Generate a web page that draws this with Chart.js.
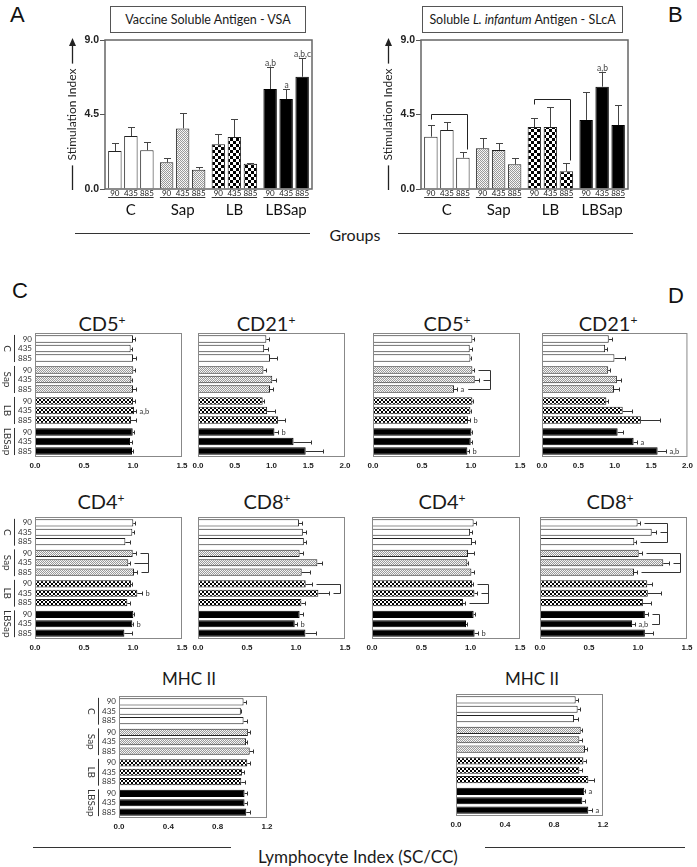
<!DOCTYPE html>
<html><head><meta charset="utf-8">
<script src="https://cdn.jsdelivr.net/npm/chart.js@4.4.1/dist/chart.umd.min.js"></script>
<style>
html,body{margin:0;padding:0;background:#fff;}
body{width:697px;height:867px;position:relative;overflow:hidden;font-family:Lato,'Open Sans',sans-serif;color:#1a1a1a;}
canvas{position:absolute;}
.tx{position:absolute;white-space:nowrap;line-height:1;transform:translate(-50%,-50%);}
.letter{position:absolute;font-family:'Liberation Sans',Arial,sans-serif;font-size:22px;line-height:1;color:#111;}
.box{position:absolute;border:1px solid #555;box-sizing:border-box;display:flex;align-items:center;justify-content:center;font-size:12.5px;white-space:nowrap;}
.hl{position:absolute;height:0;border-top:1px solid #333;}
sup{font-size:0.6em;vertical-align:0.6em;line-height:0;}
</style></head><body>
<div class="letter" style="left:10px;top:4px">A</div>
<div class="letter" style="left:668px;top:4px">B</div>
<div class="letter" style="left:12px;top:280px">C</div>
<div class="letter" style="left:668px;top:285px">D</div>
<div class="box" style="left:110px;top:6px;width:196px;height:27px"><span>Vaccine Soluble Antigen - VSA</span></div>
<div class="box" style="left:422px;top:6px;width:201px;height:27px"><span>Soluble <i>L. infantum</i> Antigen - SLcA</span></div>
<div class="tx" style="left:355px;top:235px;font-size:16px">Groups</div>
<div class="hl" style="left:75px;top:233px;width:235px"></div>
<div class="hl" style="left:398px;top:233px;width:235px"></div>

<div class="tx" style="left:102px;top:322.5px;font-size:20px">CD5<sup>+</sup></div>
<div class="tx" style="left:266px;top:322.5px;font-size:20px">CD21<sup>+</sup></div>
<div class="tx" style="left:447px;top:322.5px;font-size:20px">CD5<sup>+</sup></div>
<div class="tx" style="left:608px;top:322.5px;font-size:20px">CD21<sup>+</sup></div>
<div class="tx" style="left:101px;top:500.5px;font-size:20px">CD4<sup>+</sup></div>
<div class="tx" style="left:267px;top:500.5px;font-size:20px">CD8<sup>+</sup></div>
<div class="tx" style="left:442px;top:500.5px;font-size:20px">CD4<sup>+</sup></div>
<div class="tx" style="left:610px;top:500.5px;font-size:20px">CD8<sup>+</sup></div>
<div class="tx" style="left:189px;top:677.5px;font-size:17px">MHC II</div>
<div class="tx" style="left:532px;top:677.5px;font-size:17px">MHC II</div>
<div class="tx" style="left:358px;top:856px;font-size:17px">Lymphocyte Index (SC/CC)</div>
<div class="hl" style="left:33px;top:847px;width:198px"></div>
<div class="hl" style="left:485px;top:847px;width:200px"></div>

<script>
const GROUPS = ['C', 'Sap', 'LB', 'LBSap'];
const DOSES = ['90', '435', '885'];

// Panel A – Vaccine Soluble Antigen (stimulation index), order: C90,C435,C885,Sap90,...,LBSap885
const vsaMean = [2.29, 3.20, 2.34, 1.61, 3.66, 1.17, 2.70, 3.14, 1.53, 6.04, 5.43, 6.78];
const vsaErr  = [0.47, 0.56, 0.52, 0.24, 0.95, 0.16, 0.60, 1.09, 0.04, 1.35, 0.59, 1.11];
const vsaNote = ['', '', '', '', '', '', '', '', '', 'a,b', 'a', 'a,b,c'];

// Panel B – Soluble L. infantum Antigen
const slcaMean = [3.16, 3.56, 1.89, 2.46, 2.36, 1.49, 3.74, 3.74, 1.07, 4.17, 6.18, 3.86];
const slcaErr  = [0.70, 0.47, 0.34, 0.60, 0.44, 0.36, 0.53, 1.19, 0.48, 1.69, 0.87, 1.19];
const slcaNote = ['', '', '', '', '', '', '', '', '', '', 'a,b', ''];
const slcaBrackets = [[0, 2], [6, 8]];

// Panel C – lymphocyte index (SC/CC)
const cCD5Mean  = [1.00, 0.976, 1.00, 1.003, 0.983, 1.00, 1.00, 1.01, 0.98, 0.997, 0.97, 0.99];
const cCD5Err   = [0.02, 0.01, 0.03, 0.02, 0.01, 0.03, 0.02, 0.02, 0.05, 0.01, 0.02, 0.01];
const cCD5Note  = ['', '', '', '', '', '', '', 'a,b', '', '', '', ''];
const cCD21Mean = [0.93, 0.90, 0.98, 0.89, 1.01, 0.98, 0.88, 0.94, 1.09, 1.04, 1.30, 1.465];
const cCD21Err  = [0.04, 0.05, 0.10, 0.04, 0.05, 0.045, 0.02, 0.11, 0.09, 0.055, 0.24, 0.24];
const cCD21Note = ['', '', '', '', '', '', '', '', '', 'b', '', ''];
const cCD4Mean  = [1.003, 0.993, 0.922, 0.997, 0.952, 1.01, 0.98, 1.044, 0.942, 1.003, 0.993, 0.912];
const cCD4Err   = [0.02, 0.02, 0.05, 0.03, 0.02, 0.03, 0.01, 0.05, 0.03, 0.01, 0.01, 0.075];
const cCD4Note  = ['', '', '', '', '', '', '', 'b', '', '', 'b', ''];
const cCD4Brackets = [[3, 5]];
const cCD8Mean  = [1.03, 1.07, 1.08, 1.037, 1.218, 1.058, 1.099, 1.228, 1.055, 1.037, 0.987, 1.096];
const cCD8Err   = [0.03, 0.03, 0.02, 0.03, 0.05, 0.08, 0.06, 0.11, 0.04, 0.03, 0.02, 0.105];
const cCD8Note  = ['', '', '', '', '', '', '', '', '', '', 'b', ''];
const cCD8Brackets = [[6, 7]];
const cMHCMean  = [1.01, 0.988, 1.01, 1.045, 1.03, 1.06, 1.04, 0.997, 0.991, 1.018, 1.018, 1.032];
const cMHCErr   = [0.02, 0.005, 0.03, 0.02, 0.01, 0.03, 0.02, 0.02, 0.03, 0.02, 0.02, 0.03];
const cMHCNote  = ['', '', '', '', '', '', '', '', '', '', '', ''];

// Panel D
const dCD5Mean  = [1.014, 0.987, 0.994, 1.014, 1.038, 0.827, 1.014, 0.994, 0.969, 1.004, 0.997, 0.963];
const dCD5Err   = [0.02, 0.02, 0.01, 0.02, 0.04, 0.03, 0.01, 0.01, 0.02, 0.01, 0.01, 0.02];
const dCD5Note  = ['', '', '', '', '', 'a', '', '', 'b', '', '', 'b'];
const dCD5Brackets = [[3, 5]];
const dCD21Mean = [0.918, 0.868, 0.996, 0.91, 1.03, 0.99, 0.885, 1.11, 1.36, 1.04, 1.26, 1.59];
const dCD21Err  = [0.05, 0.03, 0.15, 0.03, 0.05, 0.07, 0.02, 0.13, 0.26, 0.08, 0.05, 0.12];
const dCD21Note = ['', '', '', '', '', '', '', '', '', '', 'a', 'a,b'];
const dCD4Mean  = [1.03, 0.994, 1.014, 0.973, 0.966, 1.007, 1.014, 1.038, 0.922, 1.03, 0.953, 1.04];
const dCD4Err   = [0.02, 0.02, 0.03, 0.06, 0.01, 0.03, 0.01, 0.03, 0.02, 0.01, 0.01, 0.03];
const dCD4Note  = ['', '', '', '', '', '', '', '', '', '', '', 'b'];
const dCD4Brackets = [[6, 8]];
const dCD8Mean  = [0.996, 1.14, 0.962, 1.007, 1.258, 0.959, 1.095, 1.10, 1.05, 1.07, 0.94, 1.07];
const dCD8Err   = [0.02, 0.04, 0.02, 0.03, 0.06, 0.03, 0.05, 0.13, 0.08, 0.03, 0.03, 0.08];
const dCD8Note  = ['', '', '', '', '', '', '', '', '', '', 'a,b', ''];
const dCD8Brackets = [[0, 2], [3, 5], [9, 10]];
const dMHCMean  = [0.977, 0.993, 0.963, 1.018, 1.007, 1.053, 1.04, 1.007, 1.08, 1.047, 1.031, 1.08];
const dMHCErr   = [0.02, 0.02, 0.03, 0.01, 0.02, 0.02, 0.02, 0.02, 0.05, 0.01, 0.02, 0.03];
const dMHCNote  = ['', '', '', '', '', '', '', '', '', 'a', '', 'a'];

const SPECS = {};

function sapPattern() {
  const c = document.createElement('canvas'); c.width = 4; c.height = 4;
  const g = c.getContext('2d');
  g.fillStyle = '#f2f2f2'; g.fillRect(0, 0, 4, 4);
  g.fillStyle = '#9a9a9a';
  for (let y = 0; y < 4; y++) for (let x = 0; x < 4; x++) if ((x + y) % 2 === 0) g.fillRect(x, y, 1, 1);
  g.fillStyle = '#ffffff'; g.fillRect(1, 2, 1, 1); g.fillRect(3, 0, 1, 1);
  return g.createPattern(c, 'repeat');
}
function checkPattern(sz) {
  const c = document.createElement('canvas'); c.width = 2 * sz; c.height = 2 * sz;
  const g = c.getContext('2d');
  g.fillStyle = '#ffffff'; g.fillRect(0, 0, 2 * sz, 2 * sz);
  g.fillStyle = '#000000'; g.fillRect(0, 0, sz, sz); g.fillRect(sz, sz, sz, sz);
  return g.createPattern(c, 'repeat');
}

function buildDatasets(mean, fills, catPct, barPct) {
  return DOSES.map((d, di) => ({
    label: d,
    data: GROUPS.map((g, gi) => mean[gi * 3 + di]),
    backgroundColor: GROUPS.map((g, gi) => fills[gi]),
    borderColor: GROUPS.map((g, gi) => gi === 3 ? '#000' : '#222'),
    borderWidth: 1,
    categoryPercentage: catPct,
    barPercentage: barPct
  }));
}

const customPlugin = {
  id: 'custom',
  afterDraw(chart) {
    const s = SPECS[chart.canvas.id]; if (!s) return;
    const ctx = chart.ctx, ca = chart.chartArea;
    const xs = chart.scales.x, ys = chart.scales.y;
    const metas = [0, 1, 2].map(d => chart.getDatasetMeta(d).data);
    const bar = i => metas[i % 3][Math.floor(i / 3)];
    const L = (x1, y1, x2, y2) => { ctx.beginPath(); ctx.moveTo(x1, y1); ctx.lineTo(x2, y2); ctx.stroke(); };
    ctx.save();
    ctx.lineWidth = 1; ctx.strokeStyle = '#333'; ctx.fillStyle = '#333';
    if (s.type === 'h') {
      ctx.font = '7.5px Lato'; ctx.textAlign = 'left'; ctx.textBaseline = 'middle';
      const ends = [];
      for (let i = 0; i < 12; i++) {
        const el = bar(i); const y = Math.round(el.y) + 0.5;
        const xe = Math.round(xs.getPixelForValue(s.mean[i] + s.err[i])) + 0.5;
        L(el.x, y, xe, y); L(xe, y - 2, xe, y + 2);
        let end = xe;
        if (s.note[i]) { ctx.fillText(s.note[i], xe + 3, y); end = xe + 3 + ctx.measureText(s.note[i]).width; }
        ends.push({ end, y });
      }
      (s.brackets || []).forEach(([a, b]) => {
        let X = -1e9; for (let i = a; i <= b; i++) X = Math.max(X, ends[i].end);
        X = Math.round(X + 10) + 0.5;
        for (let i = a; i <= b; i++) L(ends[i].end + 4, ends[i].y, X, ends[i].y);
        L(X, ends[a].y, X, ends[b].y);
      });
      if (s.rowLabels) {
        ctx.font = '8px Lato'; ctx.textAlign = 'right'; ctx.fillStyle = '#333';
        for (let i = 0; i < 12; i++) ctx.fillText(DOSES[i % 3], ca.left - 3, bar(i).y);
        for (let g = 0; g < 4; g++) {
          const y1 = bar(g * 3).y - 4, y2 = bar(g * 3 + 2).y + 4, xl = Math.round(ca.left - 21) + 0.5;
          L(xl, y1, xl, y2);
          ctx.save(); ctx.translate(ca.left - 28, (y1 + y2) / 2); ctx.rotate(Math.PI / 2);
          ctx.textAlign = 'center'; ctx.font = '10px Lato'; ctx.fillText(GROUPS[g], 0, 0); ctx.restore();
        }
      }
      ctx.strokeStyle = '#888';
      ctx.strokeRect(ca.left + 0.5, ca.top + 0.5, ca.right - ca.left - 1, ca.bottom - ca.top - 1);
    } else {
      ctx.font = '8.5px Lato'; ctx.textAlign = 'center'; ctx.textBaseline = 'alphabetic';
      const tops = [];
      for (let i = 0; i < 12; i++) {
        const el = bar(i); const x = Math.round(el.x) + 0.5;
        const ye = Math.round(ys.getPixelForValue(s.mean[i] + s.err[i])) + 0.5;
        ctx.strokeStyle = '#444';
        L(x, el.y, x, ye); L(x - 3.5, ye, x + 3.5, ye);
        let top = ye;
        if (s.note[i]) { ctx.fillStyle = '#444'; ctx.fillText(s.note[i], x, ye - 2); top = ye - 9; }
        tops.push({ x, top, ye });
      }
      ctx.strokeStyle = '#222';
      (s.brackets || []).forEach(([a, b]) => {
        let Y = 1e9; for (let i = a; i <= b; i++) Y = Math.min(Y, tops[i].top);
        Y = Math.round(Y - 9) + 0.5;
        L(tops[a].x, Y, tops[b].x + 4, Y);
        L(tops[a].x, Y, tops[a].x, Y + 5);
        L(tops[b].x + 4, Y, tops[b].x + 4, tops[b].top - 3);
      });
      // dose sublabels and underlines
      ctx.fillStyle = '#222'; ctx.font = '8px Lato'; ctx.textBaseline = 'middle';
      for (let i = 0; i < 12; i++) ctx.fillText(DOSES[i % 3], bar(i).x, ca.bottom + 4.5);
      ctx.strokeStyle = '#333';
      for (let g = 0; g < 4; g++) {
        const a = bar(g * 3), b = bar(g * 3 + 2);
        L(a.x - a.width / 2, ca.bottom + 8.5, b.x + b.width / 2, ca.bottom + 8.5);
      }
      // axis title with arrow
      const cx = Math.round(ca.left - 33) + 0.5, cy = (ca.top + ca.bottom) / 2;
      ctx.font = '12px Lato'; ctx.fillStyle = '#222';
      const w = ctx.measureText('Stimulation Index').width;
      ctx.save(); ctx.translate(cx, cy); ctx.rotate(-Math.PI / 2); ctx.fillText('Stimulation Index', 0, 0); ctx.restore();
      ctx.strokeStyle = '#222'; ctx.lineWidth = 1.3;
      L(cx, ca.bottom + 1, cx, cy + w / 2 + 5);
      L(cx, cy - w / 2 - 5, cx, ca.top + 5);
      ctx.beginPath(); ctx.moveTo(cx, ca.top - 2); ctx.lineTo(cx - 3.5, ca.top + 6); ctx.lineTo(cx + 3.5, ca.top + 6); ctx.closePath(); ctx.fill();
      ctx.strokeStyle = '#666'; ctx.lineWidth = 1.5;
      ctx.strokeRect(ca.left, ca.top, ca.right - ca.left, ca.bottom - ca.top);
    }
    ctx.restore();
  }
};

function placeCanvas(id, left, top, W, H) {
  const cv = document.createElement('canvas'); cv.id = id;
  cv.width = W; cv.height = H;
  cv.style.left = left + 'px'; cv.style.top = top + 'px';
  cv.style.width = W + 'px'; cv.style.height = H + 'px';
  document.body.appendChild(cv);
  return cv;
}

function vChart(id, rect, mean, err, note, brackets) {
  const padL = 55, padR = 10, padT = 10, padB = 36;
  const W = rect.r - rect.l + padL + padR, H = rect.b - rect.t + padT + padB;
  const cv = placeCanvas(id, rect.l - padL, rect.t - padT, W, H);
  SPECS[id] = { type: 'v', mean, err, note, brackets };
  const fills = ['#ffffff', sapPattern(), checkPattern(3), '#000000'];
  new Chart(cv, {
    type: 'bar',
    data: { labels: GROUPS, datasets: buildDatasets(mean, fills, 0.928, 0.84) },
    options: {
      responsive: false, animation: false, devicePixelRatio: 1,
      layout: { padding: { left: 0, right: padR, top: padT, bottom: 0 } },
      plugins: { legend: { display: false }, tooltip: { enabled: false } },
      scales: {
        x: { grid: { display: false, drawTicks: false }, border: { display: false },
             ticks: { padding: 12, color: '#111', font: { family: 'Lato', size: 15 } },
             afterFit(sc) { sc.height = padB; } },
        y: { min: 0, max: 9,
             grid: { drawOnChartArea: false, drawTicks: true, tickLength: 5, color: '#555' },
             border: { display: false },
             ticks: { stepSize: 4.5, padding: 1, color: '#222', font: { family: 'Liberation Sans', size: 10.5, weight: 'bold' }, callback: v => v.toFixed(1) },
             afterFit(sc) { sc.width = padL; } }
      }
    },
    plugins: [customPlugin]
  });
}

function hChart(id, rect, max, step, mean, err, note, brackets, rowLabels) {
  const padL = rowLabels ? 40 : 12, padR = Math.min(30, 697 - rect.r), padT = 6, padB = 16;
  const W = rect.r - rect.l + padL + padR, H = rect.b - rect.t + padT + padB;
  const cv = placeCanvas(id, rect.l - padL, rect.t - padT, W, H);
  SPECS[id] = { type: 'h', mean, err, note, brackets, rowLabels };
  const fills = ['#ffffff', sapPattern(), checkPattern(2), '#000000'];
  new Chart(cv, {
    type: 'bar',
    data: { labels: GROUPS, datasets: buildDatasets(mean, fills, 0.924, 0.77) },
    options: {
      indexAxis: 'y', responsive: false, animation: false, devicePixelRatio: 1,
      layout: { padding: { left: 0, right: padR, top: padT, bottom: 0 } },
      plugins: { legend: { display: false }, tooltip: { enabled: false } },
      scales: {
        x: { min: 0, max: max, grid: { display: false, drawTicks: false }, border: { display: false },
             ticks: { stepSize: step, padding: 4, color: '#222', font: { family: 'Liberation Sans', size: 8, weight: 'bold' }, callback: v => v.toFixed(1) },
             afterFit(sc) { sc.height = padB; } },
        y: { grid: { display: false, drawTicks: false }, border: { display: false },
             ticks: { display: false }, afterFit(sc) { sc.width = padL; } }
      }
    },
    plugins: [customPlugin]
  });
}

vChart('vsa', { l: 105, r: 312, t: 40, b: 189 }, vsaMean, vsaErr, vsaNote, []);
vChart('slca', { l: 421, r: 628, t: 40, b: 189 }, slcaMean, slcaErr, slcaNote, slcaBrackets);

hChart('cCD5', { l: 35, r: 182, t: 333, b: 457 }, 1.5, 0.5, cCD5Mean, cCD5Err, cCD5Note, [], true);
hChart('cCD21', { l: 198, r: 345, t: 333, b: 457 }, 2.0, 0.5, cCD21Mean, cCD21Err, cCD21Note, [], false);
hChart('dCD5', { l: 373, r: 520, t: 333, b: 457 }, 1.5, 0.5, dCD5Mean, dCD5Err, dCD5Note, dCD5Brackets, false);
hChart('dCD21', { l: 542, r: 688, t: 333, b: 457 }, 2.0, 0.5, dCD21Mean, dCD21Err, dCD21Note, [], false);
hChart('cCD4', { l: 35, r: 182, t: 517, b: 639 }, 1.5, 0.5, cCD4Mean, cCD4Err, cCD4Note, cCD4Brackets, true);
hChart('cCD8', { l: 198, r: 345, t: 517, b: 639 }, 1.5, 0.5, cCD8Mean, cCD8Err, cCD8Note, cCD8Brackets, false);
hChart('dCD4', { l: 372, r: 520, t: 517, b: 639 }, 1.5, 0.5, dCD4Mean, dCD4Err, dCD4Note, dCD4Brackets, false);
hChart('dCD8', { l: 540, r: 687, t: 517, b: 639 }, 1.5, 0.5, dCD8Mean, dCD8Err, dCD8Note, dCD8Brackets, false);
hChart('cMHC', { l: 119, r: 267, t: 696, b: 818 }, 1.2, 0.4, cMHCMean, cMHCErr, cMHCNote, [], true);
hChart('dMHC', { l: 456, r: 603, t: 694, b: 816 }, 1.2, 0.4, dMHCMean, dMHCErr, dMHCNote, [], false);
</script>
</body></html>
